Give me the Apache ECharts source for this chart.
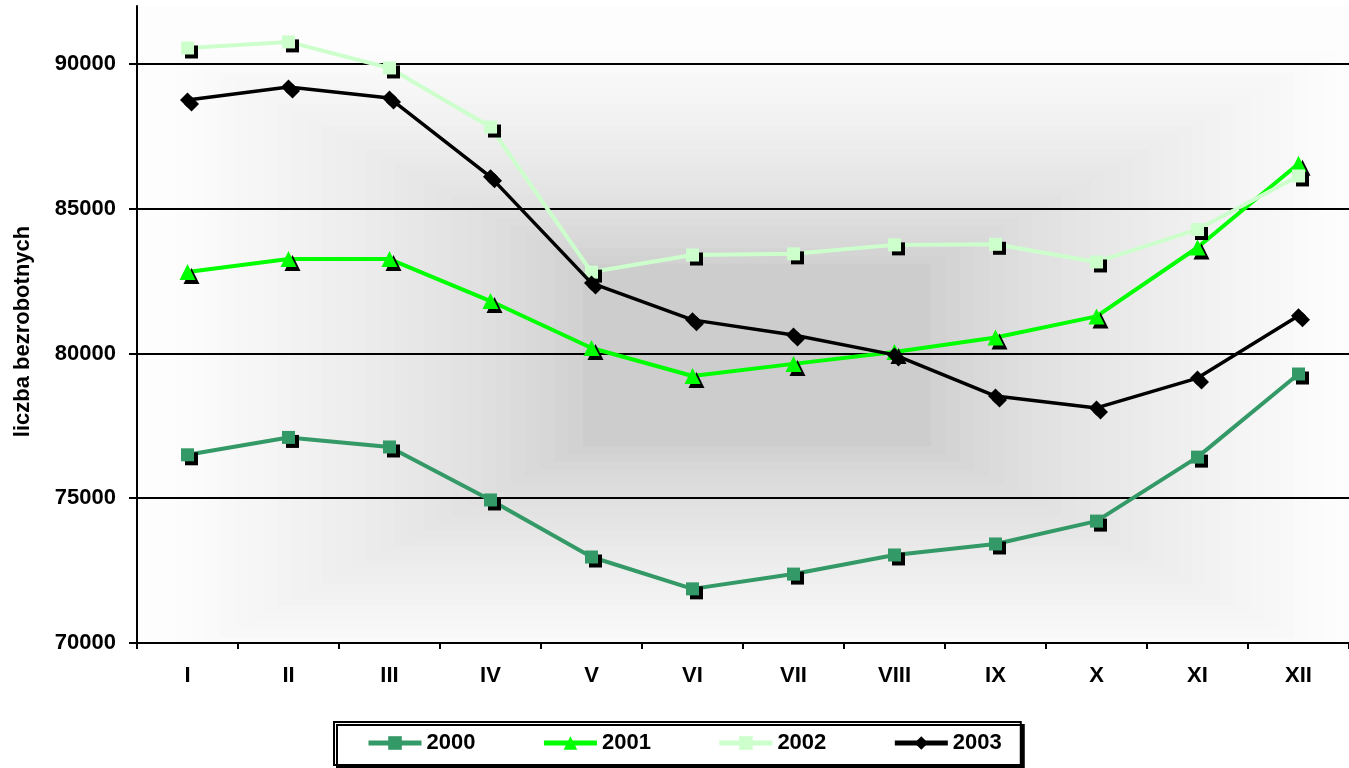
<!DOCTYPE html>
<html><head><meta charset="utf-8">
<script src="https://cdn.jsdelivr.net/npm/echarts@6/dist/echarts.min.js"></script>
<style>html,body{margin:0;padding:0;background:#fff}#c{width:1349px;height:768px}</style>
</head><body><div id="c"></div>
<script>
const months = ['I','II','III','IV','V','VI','VII','VIII','IX','X','XI','XII'];
const seriesNames = ['2000','2001','2002','2003'];
const s2000 = [76500,77100,76770,74940,72970,71870,72380,73040,73420,74210,76420,79290];
const s2001 = [82810,83260,83260,81810,80190,79220,79640,80050,80550,81280,83660,86550];
const s2002 = [90550,90760,89860,87820,82810,83400,83440,83750,83770,83160,84280,86130];
const s2003 = [88755,89200,88820,86100,82430,81160,80640,79950,78530,78120,79150,81300];
const yTicks = {min:70000, max:92000, interval:5000};

const FONT = '"Liberation Sans", Arial, sans-serif';
const G = {left:137, top:6, right:-7, bottom:125};
const W = 1349, H = 768;

// rectangular "from center" background gradient of the plot area
function bgRects(){
  const x0 = G.left, x1 = W - G.right, y0 = G.top, y1 = H - G.bottom;
  const cx = 757, cy = 355, hw = 580, hh = 305;
  const els = [{type:'rect', shape:{x:x0,y:y0,width:x1-x0,height:y1-y0}, style:{fill:'#fdfdfd'}, z:-100, silent:true}];
  const N = 40;
  for (let i=0;i<N;i++){
    const t = 1 - i/N;           // outer -> inner
    const u = Math.max(0, (t - 0.3) / 0.7);
    const g = Math.round(205 + 47 * Math.pow(u, 0.7));
    const rx0 = Math.max(x0, cx-hw*t), rx1 = Math.min(x1, cx+hw*t);
    const ry0 = Math.max(y0, cy-hh*t), ry1 = Math.min(y1, cy+hh*t);
    els.push({type:'rect', silent:true, z:-99+i*0.01,
      shape:{x:rx0, y:ry0, width:rx1-rx0, height:ry1-ry0},
      style:{fill:`rgb(${g},${g},${g})`}});
  }
  return els;
}

const colors = ['#339966','#00ff00','#ccffcc','#000000'];
const symbols = ['rect','triangle','rect','diamond'];
const sizes = [13,16,13,15];
const widths = [4,4,4,3.5];
const datas = [s2000,s2001,s2002,s2003];

const chart = echarts.init(document.getElementById('c'));
chart.setOption({
  animation:false,
  backgroundColor:'#ffffff',
  graphic: bgRects(),
  grid:{left:G.left, top:G.top, right:G.right, bottom:G.bottom, containLabel:false},
  legend:{
    left:334, top:722,
    padding:[10,19,11,32],
    itemGap:66, itemWidth:53, itemHeight:17,
    backgroundColor:'#ffffff', borderColor:'#000', borderWidth:2,
    shadowColor:'#000', shadowOffsetX:3, shadowOffsetY:3, shadowBlur:0,
    textStyle:{fontFamily:FONT, fontWeight:'bold', fontSize:22, lineHeight:22, color:'#000'},
    lineStyle:{width:5},
    itemStyle:{shadowColor:'transparent', shadowOffsetX:0, shadowOffsetY:0},
    data: seriesNames
  },
  xAxis:{
    type:'category', data:months, boundaryGap:true,
    axisLine:{lineStyle:{color:'#000', width:2}},
    axisTick:{show:true, length:6, lineStyle:{color:'#000', width:2}},
    axisLabel:{fontFamily:FONT, fontWeight:'bold', fontSize:22, color:'#000', margin:22},
    splitLine:{show:false}
  },
  yAxis:{
    type:'value', min:yTicks.min, max:yTicks.max, interval:yTicks.interval,
    name:'liczba bezrobotnych', nameLocation:'middle', nameRotate:90, nameGap:103,
    nameTextStyle:{fontFamily:FONT, fontWeight:'bold', fontSize:22, color:'#000', padding:[0,14,0,0]},
    axisLine:{show:true, lineStyle:{color:'#000', width:2}},
    axisTick:{show:true, length:8, inside:false, lineStyle:{color:'#000', width:2}},
    axisLabel:{fontFamily:FONT, fontWeight:'bold', fontSize:22, color:'#000', margin:21,
      showMaxLabel:false, formatter:(v)=>String(v)},
    splitLine:{show:true, showMaxLine:false, lineStyle:{color:'#000', width:2}}
  },
  series: seriesNames.map((n,i)=>({
    name:n, type:'line', data:datas[i],
    symbol:symbols[i], symbolSize:sizes[i], showAllSymbol:true,
    z: 3+i,
    lineStyle:{color:colors[i], width:widths[i]},
    itemStyle:{color:colors[i], shadowColor:'#000', shadowOffsetX:4, shadowOffsetY:4, shadowBlur:0},
    emphasis:{disabled:true}
  }))
});
</script></body></html>
